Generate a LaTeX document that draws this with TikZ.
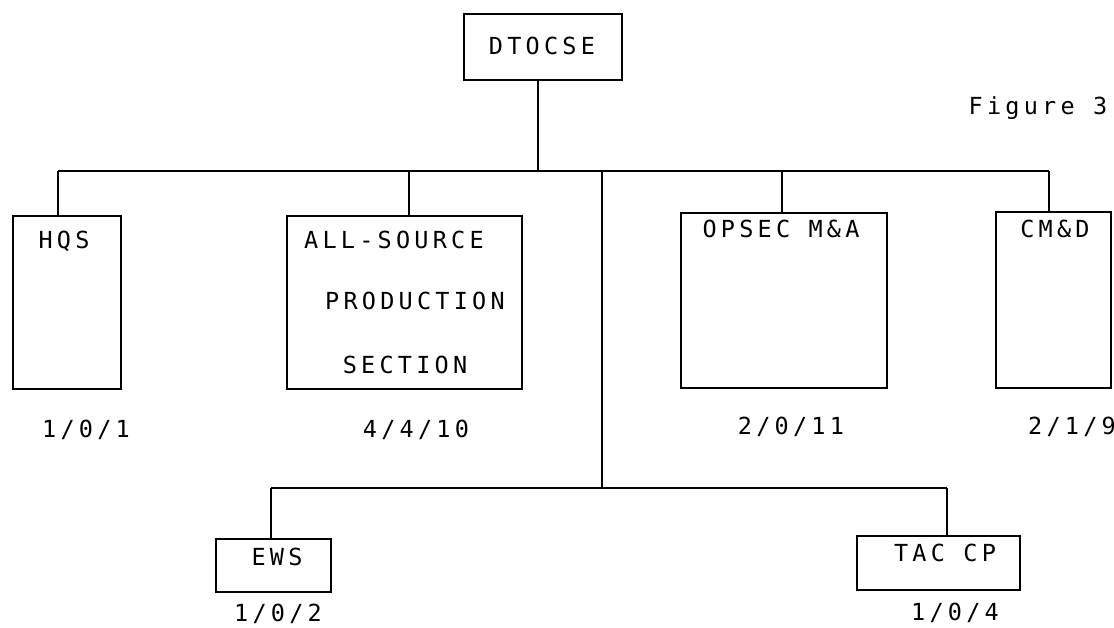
\documentclass[tikz,border=0pt]{standalone}
\usepackage{fontspec}
\newfontfamily\dm[LetterSpace=18]{DejaVu Sans Mono}
\begin{document}
\begin{tikzpicture}[x=1pt,y=-1pt,
  box/.style={draw, line width=2pt, anchor=north west, inner sep=0pt},
  txt/.style={font=\dm\fontsize{23.5}{28}\selectfont, inner sep=0pt},
  conn/.style={line width=2pt}]
\useasboundingbox (0,0) rectangle (1114,628);
% boxes
\node[box, minimum width=158pt, minimum height=66pt] (dt) at (463,13) {};
\node[box, minimum width=108pt, minimum height=173pt] (hqs) at (12,215) {};
\node[box, minimum width=235pt, minimum height=173pt] (all) at (286,215) {};
\node[box, minimum width=206pt, minimum height=175pt] (ops) at (680,212) {};
\node[box, minimum width=115pt, minimum height=176pt] (cmd) at (995,211) {};
\node[box, minimum width=115pt, minimum height=53pt] (ews) at (215,538) {};
\node[box, minimum width=163pt, minimum height=54pt] (tac) at (856,535) {};
% texts
\node[txt] (tdt) at (542,46) {DTOCSE};
\node[txt] (thqs) at (64,241) {HQS};
\node[txt] (tall1) at (394,240) {ALL-SOURCE};
\node[txt] (tall2) at (415,301) {PRODUCTION};
\node[txt] (tall3) at (405,365) {SECTION};
\node[txt] (tops) at (781,229) {OPSEC M\&A};
\node[txt] (tcmd) at (1055,229) {CM\&D};
\node[txt] (tews) at (277,557) {EWS};
\node[txt] (ttac) at (945,553) {TAC CP};
\node[txt] (fig) at (1038,108) {Figure 3};
\node[txt] (lhqs) at (86,430) {1/0/1};
\node[txt] (lall) at (416,430) {4/4/10};
\node[txt] (lops) at (791,427) {2/0/11};
\node[txt, anchor=east] (lcmd) at (1116,427) {2/1/9};
\node[txt] (lews) at (278,614) {1/0/2};
\node[txt] (ltac) at (955,613) {1/0/4};
% junctions
\coordinate (jdt) at (538,171);
\coordinate (jh) at (58,171);
\coordinate (ja) at (409,171);
\coordinate (jm) at (602,171);
\coordinate (jo) at (782,171);
\coordinate (jc) at (1049,171);
\coordinate (jml) at (602,488);
\coordinate (je) at (271,488);
\coordinate (jt) at (947,488);
% connectors
\draw[conn] (jdt |- dt.south) -- (jdt);
\draw[conn] (jh) -- (jc);
\draw[conn] (jh) -- (jh |- hqs.north);
\draw[conn] (ja) -- (ja |- all.north);
\draw[conn] (jo) -- (jo |- ops.north);
\draw[conn] (jc) -- (jc |- cmd.north);
\draw[conn] (jm) -- (jml);
\draw[conn] (je) -- (jt);
\draw[conn] (je) -- (je |- ews.north);
\draw[conn] (jt) -- (jt |- tac.north);
\end{tikzpicture}
\end{document}
